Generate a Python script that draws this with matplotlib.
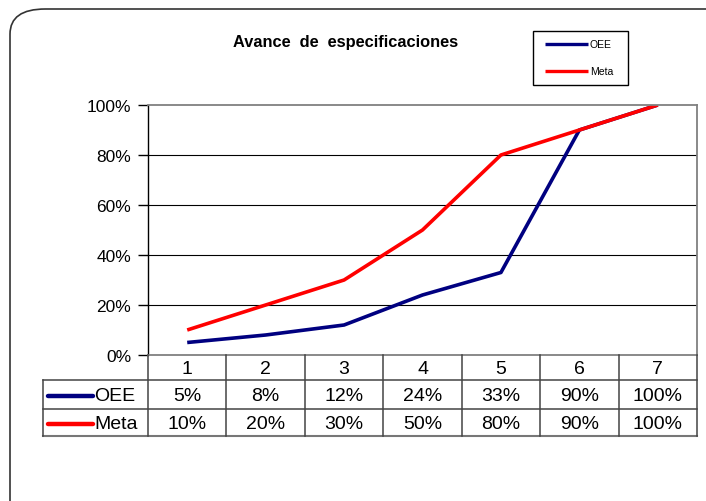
import matplotlib
matplotlib.use("Agg")
import matplotlib.pyplot as plt
from matplotlib.patches import FancyBboxPatch

plt.rcParams['font.family'] = ['Liberation Sans', 'DejaVu Sans']

categories = ["1", "2", "3", "4", "5", "6", "7"]
oee = [5, 8, 12, 24, 33, 90, 100]
meta = [10, 20, 30, 50, 80, 90, 100]
series_names = ["OEE", "Meta"]
colors = ["#000080", "#FF0000"]
title = "Avance  de  especificaciones"

W, H = 706, 502
fig = plt.figure(figsize=(W / 100, H / 100), dpi=100)


def fx(px):
    return px / W


def fy(py):
    return 1 - py / H


# outer rounded frame (cut off at right/bottom)
frame = FancyBboxPatch((fx(10), fy(540)), fx(740), 530 / H,
                       boxstyle="round,pad=0,rounding_size=0.05",
                       transform=fig.transFigure, fill=False,
                       edgecolor="#333333", linewidth=1.2, clip_on=False)
fig.patches.append(frame)

# plot area
L, R, T, B = 148, 697, 106, 356
ax = fig.add_axes([fx(L), fy(B), fx(R - L), (B - T) / H])
n = len(categories)
xs = [i + 0.5 for i in range(n)]
ax.plot(xs, oee, color=colors[0], lw=2.6, solid_capstyle="butt")
ax.plot(xs, meta, color=colors[1], lw=2.6, solid_capstyle="butt")
ax.set_xlim(0, n)
ax.set_ylim(0, 100)
ax.set_yticks([0, 20, 40, 60, 80, 100])
ax.set_yticklabels([f"{v}%" for v in [0, 20, 40, 60, 80, 100]], fontsize=12.5)
ax.tick_params(axis="y", length=7, width=1, pad=5, color="black")
ax.set_xticks([])
for v in [20, 40, 60, 80]:
    ax.axhline(v, color="black", lw=0.8, zorder=0)
for s in ["top", "right", "bottom"]:
    ax.spines[s].set_color("#808080")
    ax.spines[s].set_linewidth(1.3)
ax.spines["left"].set_color("black")
ax.spines["left"].set_linewidth(1.0)

# data table
tax = fig.add_axes([0, 0, 1, 1], facecolor="none")
tax.set_xlim(0, W)
tax.set_ylim(H, 0)
tax.axis("off")
colw = (R - L) / n
rows = [356, 381, 410, 437]
lc = "#444444"
tax.plot([43, R], [rows[1], rows[1]], color=lc, lw=1.1)
tax.plot([43, R], [rows[2], rows[2]], color=lc, lw=1.1)
tax.plot([43, R], [rows[3], rows[3]], color="#777777", lw=1.5)
tax.plot([43, 43], [rows[1], rows[3]], color=lc, lw=1.1)
for i in range(n + 1):
    x = L + i * colw
    tax.plot([x, x], [rows[0], rows[3]], color=lc, lw=1.1)
for i, c in enumerate(categories):
    tax.text(L + (i + 0.5) * colw, (rows[0] + rows[1]) / 2 + 1, c,
             ha="center", va="center", fontsize=14)
for r, vals in enumerate([oee, meta]):
    yc = (rows[r + 1] + rows[r + 2]) / 2 + 1
    for i, v in enumerate(vals):
        tax.text(L + (i + 0.5) * colw, yc, f"{v}%",
                 ha="center", va="center", fontsize=14)
    tax.plot([48, 93], [yc, yc], color=colors[r], lw=3.2, solid_capstyle="round")
    tax.text(94, yc, series_names[r], ha="left", va="center", fontsize=14)

# title
tax.text(346, 42, title, ha="center", va="center", fontsize=11.8,
         fontweight="bold")

# legend box
tax.add_patch(plt.Rectangle((533, 32), 95, 54, fill=False, edgecolor="black",
                            lw=1))
for r, yl in enumerate([45, 72]):
    tax.plot([545, 588], [yl, yl], color=colors[r], lw=2.4,
             solid_capstyle="butt")
    tax.text(590, yl, series_names[r], ha="left", va="center", fontsize=7.5,
             fontstretch="condensed")

fig.savefig("out.png", dpi=100)
